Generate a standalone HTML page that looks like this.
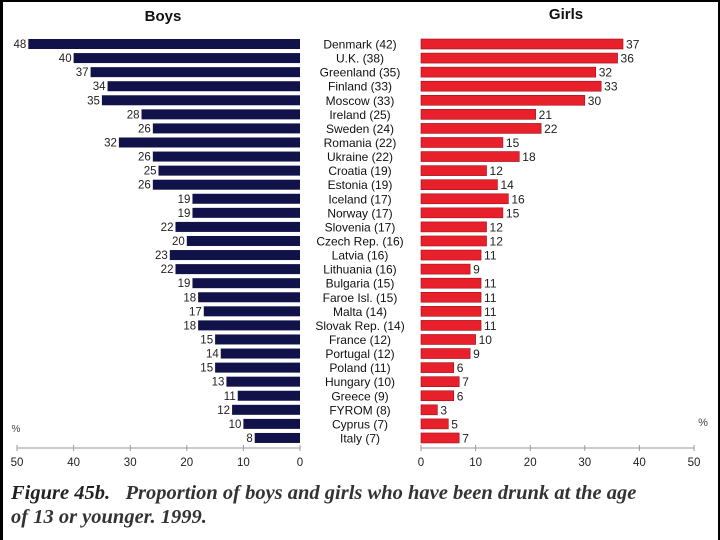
<!DOCTYPE html>
<html><head><meta charset="utf-8"><style>
html,body{margin:0;padding:0;background:#fff}
#wrap{position:relative;width:720px;height:540px;overflow:hidden;background:#fff}
svg{position:absolute;left:0;top:0}
.cap{position:absolute;left:11px;font-family:"Liberation Serif",serif;font-style:italic;font-weight:bold;font-size:20.5px;color:#222;white-space:nowrap}
</style></head><body>
<div id="wrap">
<svg id="chart" width="720" height="540"></svg>
<div class="cap" style="top:482px">Figure 45b.&nbsp;&nbsp;&nbsp;<span style="font-weight:bold;color:#333">Proportion of boys and girls who have been drunk at the age</span></div>
<div class="cap" style="top:506px;color:#333">of 13 or younger. 1999.</div>
</div>
<script>
const countries=["Denmark (42)","U.K. (38)","Greenland (35)","Finland (33)","Moscow (33)","Ireland (25)","Sweden (24)","Romania (22)","Ukraine (22)","Croatia (19)","Estonia (19)","Iceland (17)","Norway (17)","Slovenia (17)","Czech Rep. (16)","Latvia (16)","Lithuania (16)","Bulgaria (15)","Faroe Isl. (15)","Malta (14)","Slovak Rep. (14)","France (12)","Portugal (12)","Poland (11)","Hungary (10)","Greece (9)","FYROM (8)","Cyprus (7)","Italy (7)"];
const boys=[48,40,37,34,35,28,26,32,26,25,26,19,19,22,20,23,22,19,18,17,18,15,14,15,13,11,12,10,8];
const girls=[37,36,32,33,30,21,22,15,18,12,14,16,15,12,12,11,9,11,11,11,11,10,9,6,7,6,3,5,7];
const ticks=[0,10,20,30,40,50];
const NS="http://www.w3.org/2000/svg";
const svg=document.getElementById('chart');
function mk(t,a,txt){const e=document.createElementNS(NS,t);for(const k in a)e.setAttribute(k,a[k]);if(txt!==undefined)e.textContent=txt;svg.appendChild(e);return e;}
const bx=v=>300-v*5.66;
const gx=v=>421+v*5.46;
const ry=i=>44+i*14.07;
const F='"Liberation Sans",sans-serif';
let e;
e=mk('rect',{x:0,y:0,width:3,height:540,fill:'#000'});


e=mk('rect',{x:0,y:0,width:720,height:2,fill:'#000'});


e=mk('rect',{x:718,y:0,width:2,height:540,fill:'#000'});


e=mk('text',{x:163,y:21,'font-family':F,'font-weight':'bold','font-size':15,'text-anchor':'middle',fill:'#111'},'Boys');


e=mk('text',{x:566,y:19,'font-family':F,'font-weight':'bold','font-size':15,'text-anchor':'middle',fill:'#111'},'Girls');


countries.forEach((c,i)=>{
  const y=ry(i);
  let b=mk('rect',{x:bx(boys[i]),y:y-5,width:300-bx(boys[i]),height:10,fill:'#12124a'});
  
  
  let bl=mk('text',{x:bx(boys[i])-2,y:y+4,'font-family':F,'font-size':11.5,'text-anchor':'end',fill:'#222'},boys[i]);
  
  
  let g=mk('rect',{x:421,y:y-5,width:gx(girls[i])-421,height:10,fill:'#e8202c',stroke:'#a01018','stroke-width':0.6});
  
  
  let gl=mk('text',{x:gx(girls[i])+3,y:y+4.5,'font-family':F,'font-size':12,fill:'#222'},girls[i]);
  
  
  let cl=mk('text',{x:360,y:y+4.5,'font-family':F,'font-size':12,'text-anchor':'middle',fill:'#111'},c);
  
  
});
e=mk('line',{x1:bx(50),x2:bx(0),y1:448,y2:448,stroke:'#999','stroke-width':1});


e=mk('line',{x1:gx(0),x2:gx(50),y1:448,y2:448,stroke:'#999','stroke-width':1});


ticks.forEach(t=>{
  let a=mk('line',{x1:bx(t),x2:bx(t),y1:445,y2:451,stroke:'#999'});
  
  
  let at=mk('text',{x:bx(t),y:466,'font-family':F,'font-size':11.5,'text-anchor':'middle',fill:'#222'},t);
  
  
  let b=mk('line',{x1:gx(t),x2:gx(t),y1:445,y2:451,stroke:'#999'});
  
  
  let bt=mk('text',{x:gx(t),y:466,'font-family':F,'font-size':11.5,'text-anchor':'middle',fill:'#222'},t);
  
  
});
e=mk('text',{x:16,y:432,'font-family':F,'font-size':10,'text-anchor':'middle',fill:'#444'},'%');


e=mk('text',{x:703,y:426,'font-family':F,'font-size':11,'text-anchor':'middle',fill:'#444'},'%');


</script>
</body></html>
